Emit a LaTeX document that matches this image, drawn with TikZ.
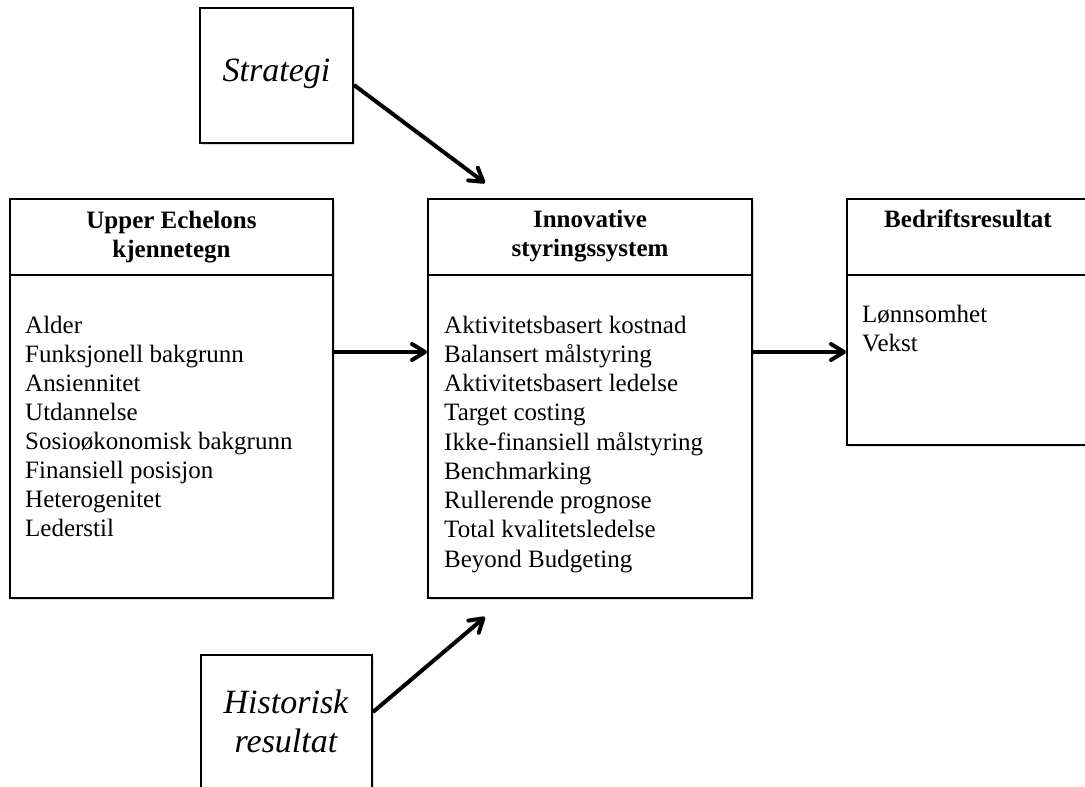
\documentclass[tikz,border=0pt]{standalone}
\usepackage{fontspec}
\setmainfont{Liberation Serif}
\usetikzlibrary{arrows.meta,shadows}
\begin{document}
\begin{tikzpicture}[x=1pt,y=-1pt,
  box/.style={draw, line width=2pt, fill=white, inner sep=0pt,
    drop shadow={shadow xshift=1.5pt, shadow yshift=-2pt, opacity=0.3, fill=black!45}},
  divider/.style={line width=2pt},
  head/.style={font=\fontsize{25}{29}\selectfont\bfseries, anchor=base, inner sep=0pt},
  item/.style={font=\fontsize{25}{29}\selectfont, anchor=base west, inner sep=0pt},
  label/.style={font=\fontsize{34}{39}\selectfont\itshape, anchor=base, inner sep=0pt},
  arr/.style={line width=4pt, -{Straight Barb[length=13pt,width=16pt,round]}}]
\useasboundingbox (0,0) rectangle (1085,787);
\clip (0,0) rectangle (1085,787);

% boxes
\node[box, minimum width=153pt, minimum height=135pt] (strat) at (276.5,75.5) {};
\node[box, minimum width=171pt, minimum height=160pt] (hist) at (286.5,735) {};
\node[box, minimum width=323pt, minimum height=399pt] (ue) at (171.5,398.5) {};
\node[box, minimum width=324pt, minimum height=399pt] (is) at (590,398.5) {};
\node[box, minimum width=250pt, minimum height=246pt] (br) at (972,322) {};

% dividers
\draw[divider] (ue.west |- 0,275) -- (ue.east |- 0,275);
\draw[divider] (is.west |- 0,275) -- (is.east |- 0,275);
\draw[divider] (br.west |- 0,275) -- (br.east |- 0,275);

% labels
\node[label] (stratt) at (276.5,81) {Strategi};
\node[label] (histt1) at (286,713) {Historisk};
\node[label] (histt2) at (286,752) {resultat};

% headings
\node[head] (ueh1) at (171.5,228) {Upper Echelons};
\node[head] (ueh2) at (171.5,257) {kjennetegn};
\node[head] (ish1) at (590,227) {Innovative};
\node[head] (ish2) at (590,256) {styringssystem};
\node[head] (brh1) at (968,227) {Bedriftsresultat};

% lists
\foreach \t [count=\i from 0] in {Alder, Funksjonell bakgrunn, Ansiennitet, Utdannelse,
  Sosioøkonomisk bakgrunn, Finansiell posisjon, Heterogenitet, Lederstil}
  \node[item] (uei\i) at (25,{333+29*\i}) {\t};
\foreach \t [count=\i from 0] in {Aktivitetsbasert kostnad, Balansert målstyring,
  Aktivitetsbasert ledelse, Target costing, Ikke-finansiell målstyring, Benchmarking,
  Rullerende prognose, Total kvalitetsledelse, Beyond Budgeting}
  \node[item] (isi\i) at (444,{333+29.25*\i}) {\t};
\node[item] (bri0) at (862,322) {Lønnsomhet};
\node[item] (bri1) at (862,351) {Vekst};

% connectors
\coordinate (stend) at (485,183);
\coordinate (hiend) at (485,617);
\draw[arr] (ue.east |- 0,352) -- (is.west |- 0,352);
\draw[arr] (is.east |- 0,352) -- (br.west |- 0,352);
\draw[arr] (strat.east |- 0,85) -- (stend);
\draw[arr] (hist.east |- 0,712) -- (hiend);
\end{tikzpicture}
\end{document}
